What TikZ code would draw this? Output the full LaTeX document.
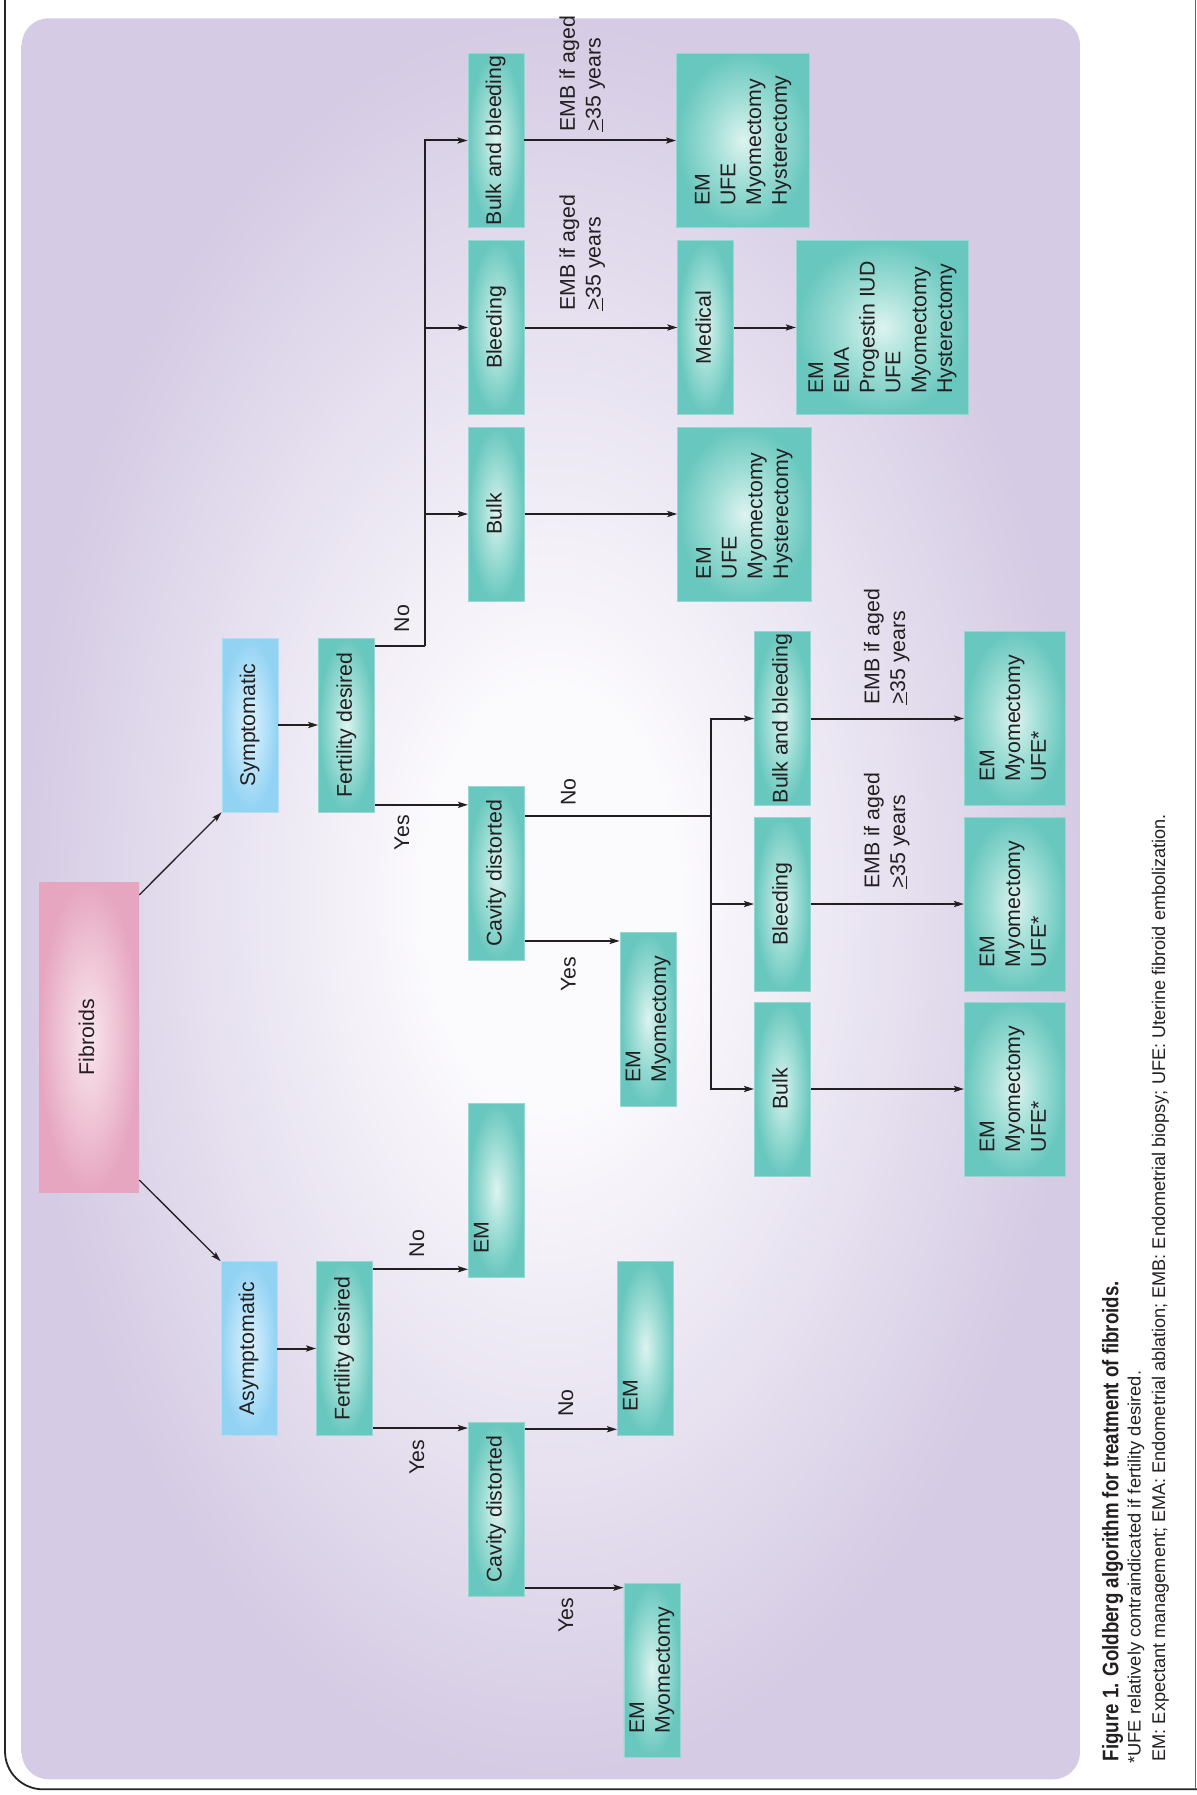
\documentclass[tikz,border=0pt]{standalone}
\usepackage{fontspec}
\setmainfont{Liberation Sans}
\usepackage{graphicx}
\usetikzlibrary{arrows.meta}

\definecolor{tealout}{RGB}{104,199,190}
\definecolor{tealmid}{RGB}{160,222,214}
\definecolor{tealin}{RGB}{222,243,240}
\definecolor{tealedge}{RGB}{150,216,209}
\definecolor{blueout}{RGB}{146,210,243}
\definecolor{bluemid}{RGB}{186,228,249}
\definecolor{bluein}{RGB}{222,242,252}
\definecolor{blueedge}{RGB}{175,222,247}
\definecolor{pinkout}{RGB}{230,166,192}
\definecolor{pinkmid}{RGB}{240,200,216}
\definecolor{pinkin}{RGB}{248,230,237}
\definecolor{lavout}{RGB}{213,203,228}
\definecolor{lavin}{RGB}{251,250,253}
\definecolor{ink}{RGB}{35,31,32}

\pgfdeclareradialshading{tealglow}{\pgfpoint{0bp}{0bp}}{color(0bp)=(tealin); color(12bp)=(tealmid); color(25bp)=(tealout); color(50bp)=(tealout)}
\pgfdeclareradialshading{blueglow}{\pgfpoint{0bp}{0bp}}{color(0bp)=(bluein); color(12bp)=(bluemid); color(25bp)=(blueout); color(50bp)=(blueout)}
\pgfdeclareradialshading{pinkglow}{\pgfpoint{0bp}{0bp}}{color(0bp)=(pinkin); color(12bp)=(pinkmid); color(25bp)=(pinkout); color(50bp)=(pinkout)}
\pgfdeclareradialshading{panelglow}{\pgfpoint{0bp}{0bp}}{color(0bp)=(lavin); color(6bp)=(lavin); color(25bp)=(lavout); color(50bp)=(lavout)}

\newcommand{\rottext}[1]{\rotatebox{90}{\begin{tabular}{@{}l@{}}#1\end{tabular}}}

\begin{document}
\begin{tikzpicture}[x=1pt,y=-1pt,
  txt/.style={font=\fontsize{21.3}{25.8}\selectfont, text=ink},
  boxbase/.style={txt, shade, inner sep=0pt, line width=0.7pt, minimum width=56pt, minimum height=174pt},
  tealbox/.style={boxbase, shading=tealglow, draw=tealedge},
  bluebox/.style={boxbase, shading=blueglow, draw=blueedge},
  pinkbox/.style={boxbase, shading=pinkglow, draw=none, minimum width=100pt, minimum height=310pt},
  lbl/.style={txt, rotate=90, inner sep=0pt},
  conn/.style={draw=ink, line width=1.3pt, -{Stealth[length=10pt,width=6pt,inset=2pt]}},
  plain/.style={draw=ink, line width=2pt},
  arr/.style={draw=ink, line width=2pt, -{Stealth[length=10pt,width=6pt,inset=2pt]}},
  capline/.style={rotate=90, anchor=base west, inner sep=0pt, text=ink}
]
\useasboundingbox (0,0) rectangle (1196,1795);
\fill[white] (0,0) rectangle (1196,1795);

% panel
\shade[shading=panelglow, rounded corners=27pt] (21.7,18.3) rectangle (1080,1779.3);

% outer frame
\draw[line width=1.8pt, draw=black!85, rounded corners=38pt] (5,-3) -- (5,1789.3) -- (1199,1789.3);
\draw[line width=0.8pt, draw=black!60] (1195.4,0) -- (1195.4,1789.3);

% nodes
\node[pinkbox] (fib) at (89,1037.2) {\rottext{Fibroids}};
\node[bluebox] (sym) at (249.9,725) {\rottext{Symptomatic}};
\node[bluebox] (asym) at (249,1348.5) {\rottext{Asymptomatic}};
\node[tealbox] (fertS) at (346.6,725) {\rottext{Fertility desired}};
\node[tealbox] (fertA) at (344.5,1348.5) {\rottext{Fertility desired}};

\node[tealbox] (bb1) at (496,140.5) {\rottext{Bulk and bleeding}};
\node[tealbox] (bl1) at (496.4,327.5) {\rottext{Bleeding}};
\node[tealbox] (bu1) at (496.4,514) {\rottext{Bulk}};
\node[tealbox] (cavS) at (496.4,873.5) {\rottext{Cavity distorted}};
\node[tealbox] (emT) at (496.4,1190.5) {\rottext{EM\\\phantom{Myomectomy}}};
\node[tealbox] (cavA) at (496.4,1509.4) {\rottext{Cavity distorted}};

\node[tealbox, minimum width=133.2pt] (out1) at (743.1,140.5) {\rottext{EM\\UFE\\Myomectomy\\Hysterectomy}};
\node[tealbox] (med) at (705.8,327.5) {\rottext{Medical}};
\node[tealbox, minimum width=172.2pt] (out2) at (882.4,327.5) {\rottext{EM\\EMA\\Progestin IUD\\UFE\\Myomectomy\\Hysterectomy}};
\node[tealbox, minimum width=133.2pt] (out3) at (744.3,514) {\rottext{EM\\UFE\\Myomectomy\\Hysterectomy}};

\node[tealbox] (myoS) at (648,1019.3) {\rottext{EM\\Myomectomy}};
\node[tealbox] (bb2) at (782.4,718.5) {\rottext{Bulk and bleeding}};
\node[tealbox] (bl2) at (782.4,904) {\rottext{Bleeding}};
\node[tealbox] (bu2) at (782.4,1089) {\rottext{Bulk}};
\node[tealbox, minimum width=101.1pt] (out4) at (1014.9,718.5) {\rottext{EM\\Myomectomy\\UFE*}};
\node[tealbox, minimum width=101.1pt] (out5) at (1014.9,904) {\rottext{EM\\Myomectomy\\UFE*}};
\node[tealbox, minimum width=101.1pt] (out6) at (1014.9,1089) {\rottext{EM\\Myomectomy\\UFE*}};

\node[tealbox] (emB) at (645.4,1348) {\rottext{EM\\\phantom{Myomectomy}}};
\node[tealbox] (myoA) at (651.9,1670.2) {\rottext{EM\\Myomectomy}};

% connectors from Fibroids
\draw[conn] ([yshift=-13pt]fib.north east) -- (sym.south west);
\draw[conn] ([yshift=12.5pt]fib.south east) -- (asym.north west);
\draw[arr] (sym) -- (fertS);
\draw[arr] (asym) -- (fertA);

% symptomatic, fertility desired: No
\coordinate (s1) at ([yshift=-8.5pt]fertS.north east);
\draw[plain] (s1) -- ++(50.2,0) coordinate (t1);
\draw[arr] (t1) |- (bb1);
\draw[arr] (t1) |- (bl1);
\draw[arr] (t1) |- (bu1);
% Yes
\coordinate (y1) at ([yshift=7.5pt]fertS.south east);
\draw[arr] (y1) -- (y1 -| cavS.west);

% cavity distorted (symptomatic): No
\coordinate (s2) at ([yshift=-29.5pt]cavS.north east);
\draw[plain] (s2) -- ++(185.8,0) coordinate (t2);
\draw[arr] (t2) |- (bb2);
\draw[arr] (t2) |- (bl2);
\draw[arr] (t2) |- (bu2);
% Yes
\coordinate (y2) at ([yshift=19.9pt]cavS.south east);
\draw[arr] (y2) -- (y2 -| myoS.west);

% asymptomatic branch
\coordinate (s3) at ([yshift=-8.1pt]fertA.north east);
\draw[arr] (s3) -- (s3 -| emT.west);
\coordinate (y3) at ([yshift=7.8pt]fertA.south east);
\draw[arr] (y3) -- (y3 -| cavA.west);
\coordinate (s4) at ([yshift=-7.2pt]cavA.north east);
\draw[arr] (s4) -- (s4 -| emB.west);
\coordinate (y4) at ([yshift=9.1pt]cavA.south east);
\draw[arr] (y4) -- (y4 -| myoA.west);

% outcome arrows
\draw[arr] (bb1) -- (out1);
\draw[arr] (bl1) -- (med);
\draw[arr] (med) -- (out2);
\draw[arr] (bu1) -- (out3);
\draw[arr] (bb2) -- (out4);
\draw[arr] (bl2) -- (out5);
\draw[arr] (bu2) -- (out6);

% Yes / No labels
\node[lbl] (lno1) at (401.8,618.6) {No};
\node[lbl] (lyes1) at (401.8,832.7) {Yes};
\node[lbl] (lno2) at (568.3,792) {No};
\node[lbl] (lyes2) at (568.3,974) {Yes};
\node[lbl] (lno3) at (417,1243.7) {No};
\node[lbl] (lyes3) at (417,1457) {Yes};
\node[lbl] (lno4) at (566,1403) {No};
\node[lbl] (lyes4) at (566,1615) {Yes};

% EMB labels
\node[lbl, anchor=west] (emb1) at (582.5,132) {\begin{tabular}{@{}l@{}}EMB if aged\\\underline{>}35 years\end{tabular}};
\node[lbl, anchor=west] (emb2) at (582.5,311) {\begin{tabular}{@{}l@{}}EMB if aged\\\underline{>}35 years\end{tabular}};
\node[lbl, anchor=west] (emb3) at (887,705) {\begin{tabular}{@{}l@{}}EMB if aged\\\underline{>}35 years\end{tabular}};
\node[lbl, anchor=west] (emb4) at (887,889) {\begin{tabular}{@{}l@{}}EMB if aged\\\underline{>}35 years\end{tabular}};

% caption
\node[capline] (cap1) at (1118.3,1761.4) {\resizebox{480pt}{16.3pt}{\bfseries Figure 1. Goldberg algorithm for treatment of fibroids.}};
\node[capline] (cap2) at (1140.5,1764) {\resizebox{393pt}{13pt}{*UFE relatively contraindicated if fertility desired.}};
\node[capline] (cap3) at (1165,1761.4) {\resizebox{947pt}{13.3pt}{EM: Expectant management; EMA: Endometrial ablation; EMB: Endometrial biopsy; UFE: Uterine fibroid embolization.}};
\end{tikzpicture}
\end{document}
